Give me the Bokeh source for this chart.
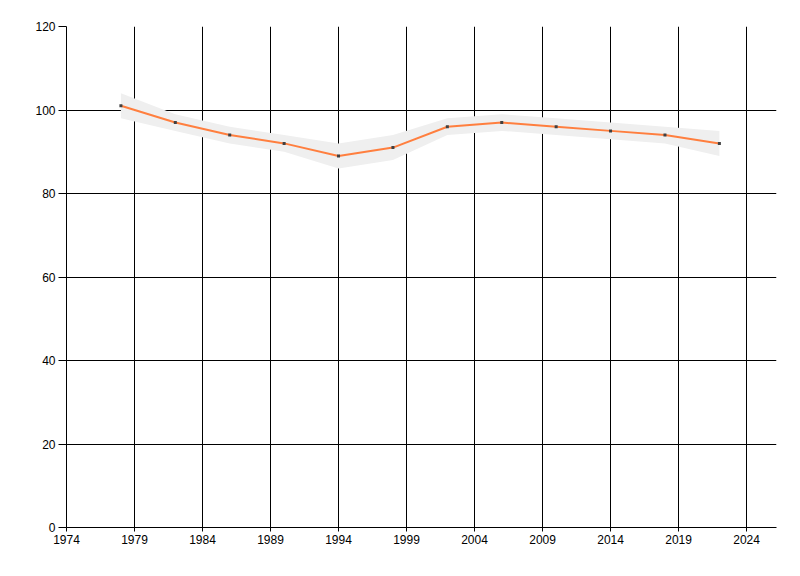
from bokeh.plotting import figure
from bokeh.models import FixedTicker, ColumnDataSource
from bokeh.embed import file_html
from bokeh.resources import INLINE

years = [1978, 1982, 1986, 1990, 1994, 1998, 2002, 2006, 2010, 2014, 2018, 2022]
values = [101, 97, 94, 92, 89, 91, 96, 97, 96, 95, 94, 92]
upper = [104, 99, 96, 94, 92, 94, 98, 99, 98, 97, 96, 95]
lower = [98, 95, 92, 90, 86, 88, 94, 95, 94, 93, 92, 89]
x_ticks = [1974, 1979, 1984, 1989, 1994, 1999, 2004, 2009, 2014, 2019, 2024]
y_ticks = [0, 20, 40, 60, 80, 100, 120]

src = ColumnDataSource(dict(x=years, y=values, up=upper, lo=lower))

p = figure(frame_width=710, frame_height=501, output_backend="svg", toolbar_location=None,
           x_range=(1974, 2026.2), y_range=(0, 120),
           min_border_left=66, min_border_right=16, min_border_top=26, min_border_bottom=41)
p.outline_line_color = None
p.background_fill_color = "white"

p.varea(x="x", y1="lo", y2="up", source=src, fill_color="#EFEFEF", fill_alpha=1.0)
p.line(x="x", y="y", source=src, line_color="#FF7F3F", line_width=2)
p.scatter(x="x", y="y", source=src, marker="square", size=3, fill_color="#404040", line_color=None)

p.xaxis.ticker = FixedTicker(ticks=x_ticks)
p.yaxis.ticker = FixedTicker(ticks=y_ticks)
for ax in (p.xaxis, p.yaxis):
    ax.axis_line_color = "black"
    ax.major_tick_line_color = "black"
    ax.minor_tick_line_color = None
    ax.major_tick_in = 0
    ax.major_label_text_font = "Liberation Sans"
    ax.major_label_text_font_size = "12px"
    ax.major_label_text_color = "#000000"
    ax.major_label_standoff = 3
p.yaxis.major_tick_out = 8
p.xaxis.major_tick_out = 4

p.xgrid.grid_line_color = "black"
p.ygrid.grid_line_color = "black"
p.xgrid.grid_line_width = 1
p.ygrid.grid_line_width = 1
p.grid.level = "underlay"

open("out.html", "w").write(file_html(p, INLINE))
